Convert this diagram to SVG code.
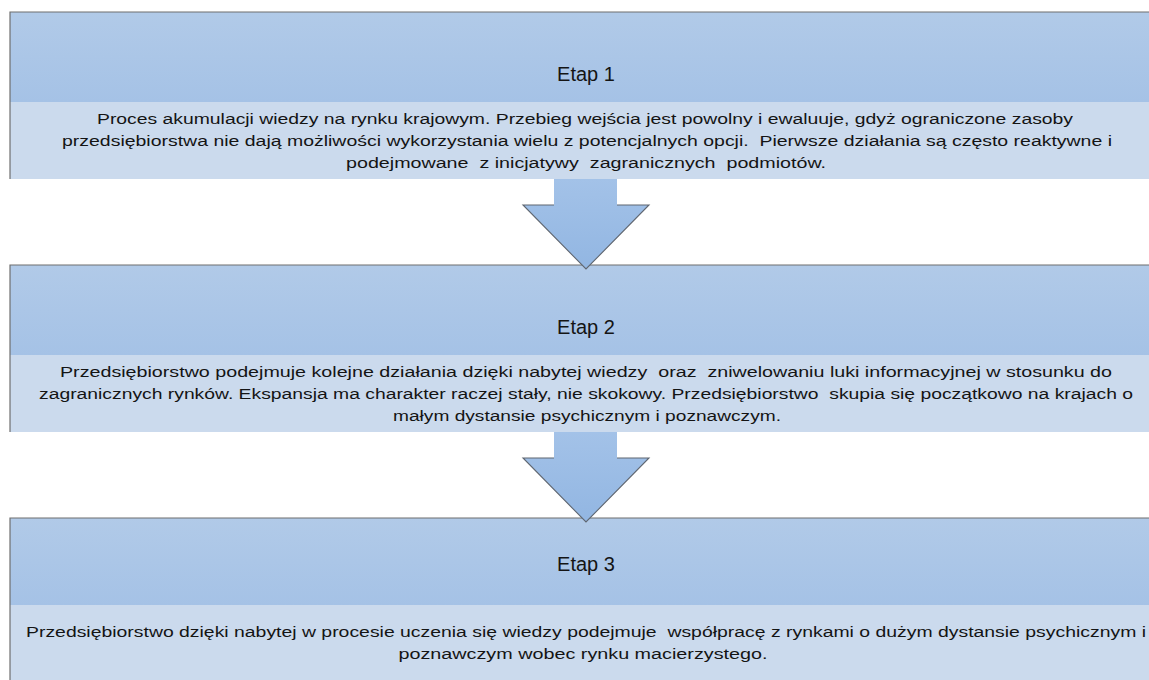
<svg xmlns="http://www.w3.org/2000/svg" width="1149" height="680" viewBox="0 0 1149 680">
  <defs>
    <linearGradient id="hdr" x1="0" y1="0" x2="0" y2="1">
      <stop offset="0" stop-color="#b1cae8"/>
      <stop offset="1" stop-color="#a5c2e6"/>
    </linearGradient>
    <linearGradient id="arr" x1="0" y1="0" x2="0" y2="1">
      <stop offset="0" stop-color="#a3c2e8"/>
      <stop offset="1" stop-color="#92b6e2"/>
    </linearGradient>
  </defs>
  <style>
    .hdr { fill: url(#hdr); }
    .body { fill: #cbdaed; }
    .edge { fill: none; stroke: #6f6f6f; stroke-width: 1.2; }
    .title { font-family: "Liberation Sans", Arial, sans-serif; font-size: 20px; fill: #141414; text-anchor: middle; }
    .txt { font-family: "Liberation Sans", Arial, sans-serif; font-size: 15.5px; fill: #141414; text-anchor: middle; white-space: pre; }
    .arrow { fill: url(#arr); }
    .head { fill: none; stroke: #5f6670; stroke-width: 1.1; stroke-linejoin: miter; }
  </style>
  <rect width="1149" height="680" fill="#ffffff"/>

  <g id="etap1">
    <rect class="hdr" x="10" y="12" width="1150" height="90"/>
    <rect class="body" x="10" y="102" width="1150" height="77"/>
    <polyline class="edge" points="10,179 10,12 1160,12"/>
    <text class="title" x="586" y="81">Etap 1</text>
    <text class="txt" x="585" y="124" textLength="976" lengthAdjust="spacingAndGlyphs">Proces akumulacji wiedzy na rynku krajowym. Przebieg wejścia jest powolny i ewaluuje, gdyż ograniczone zasoby</text>
    <text class="txt" x="587" y="146" textLength="1050" lengthAdjust="spacingAndGlyphs">przedsiębiorstwa nie dają możliwości wykorzystania wielu z potencjalnych opcji.  Pierwsze działania są często reaktywne i</text>
    <text class="txt" x="586" y="168" textLength="480" lengthAdjust="spacingAndGlyphs">podejmowane  z inicjatywy  zagranicznych  podmiotów.</text>
  </g>

  <g id="etap2">
    <rect class="hdr" x="10" y="265" width="1150" height="90"/>
    <rect class="body" x="10" y="355" width="1150" height="77"/>
    <polyline class="edge" points="10,432 10,265 1160,265"/>
    <text class="title" x="586" y="334">Etap 2</text>
    <text class="txt" x="586" y="377" textLength="1052" lengthAdjust="spacingAndGlyphs">Przedsiębiorstwo podejmuje kolejne działania dzięki nabytej wiedzy  oraz  zniwelowaniu luki informacyjnej w stosunku do</text>
    <text class="txt" x="586" y="399" textLength="1094" lengthAdjust="spacingAndGlyphs">zagranicznych rynków. Ekspansja ma charakter raczej stały, nie skokowy. Przedsiębiorstwo  skupia się początkowo na krajach o</text>
    <text class="txt" x="587" y="421" textLength="388" lengthAdjust="spacingAndGlyphs">małym dystansie psychicznym i poznawczym.</text>
  </g>

  <g id="etap3">
    <rect class="hdr" x="10" y="518" width="1150" height="87"/>
    <rect class="body" x="10" y="605" width="1150" height="80"/>
    <polyline class="edge" points="10,685 10,518 1160,518"/>
    <text class="title" x="586" y="571">Etap 3</text>
    <text class="txt" x="586" y="637" textLength="1120" lengthAdjust="spacingAndGlyphs">Przedsiębiorstwo dzięki nabytej w procesie uczenia się wiedzy podejmuje  współpracę z rynkami o dużym dystansie psychicznym i</text>
    <text class="txt" x="583" y="659" textLength="369" lengthAdjust="spacingAndGlyphs">poznawczym wobec rynku macierzystego.</text>
  </g>

  <g id="connectors">
    <g id="arrow1">
      <polygon class="arrow" points="554,179 617,179 617,205 649,205 586,269 523,205 554,205"/>
      <polyline class="head" points="554,205 523,205 586,269 649,205 617,205"/>
    </g>
    <g id="arrow2">
      <polygon class="arrow" points="554,432 617,432 617,458 649,458 586,522 523,458 554,458"/>
      <polyline class="head" points="554,458 523,458 586,522 649,458 617,458"/>
    </g>
  </g>
</svg>
